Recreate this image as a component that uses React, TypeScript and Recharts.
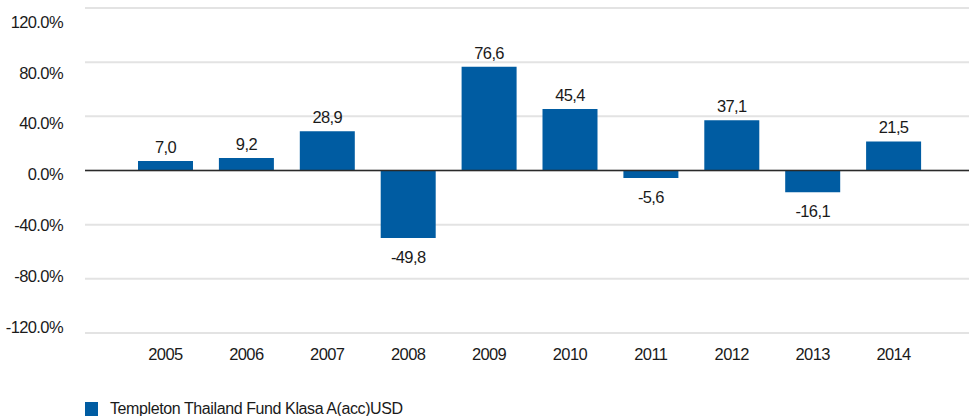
import React from "react";
import {
  BarChart,
  Bar,
  CartesianGrid,
  LabelList,
  Legend,
  ReferenceLine,
  XAxis,
  YAxis,
} from "recharts";

const YEARS = ["2005", "2006", "2007", "2008", "2009", "2010", "2011", "2012", "2013", "2014"];
const RETURNS = [7.0, 9.2, 28.9, -49.8, 76.6, 45.4, -5.6, 37.1, -16.1, 21.5];
const Y_TICKS = [-120, -80, -40, 0, 40, 80, 120];
const SERIES_NAME = "Templeton Thailand Fund Klasa A(acc)USD";

const BLUE = "#005ca2";
const FONT = "'Liberation Sans', Arial, sans-serif";

const data = YEARS.map((year, i) => ({ year, value: RETURNS[i] }));

const fmtValue = (v: number) => v.toFixed(1).replace(".", ",");

// label above positive bars, below negative ones
function ValueLabel(props: any) {
  const { x, y, width, height, value } = props;
  const top = Math.min(y, y + height);
  const bottom = Math.max(y, y + height);
  const ty = value >= 0 ? top - 8 : bottom + 25;
  return (
    <text
      x={x + width / 2}
      y={ty}
      textAnchor="middle"
      fill="#1a1a1a"
      fontSize={16.5}
      letterSpacing={-0.6}
      fontFamily={FONT}
    >
      {fmtValue(value)}
    </text>
  );
}

function LegendContent() {
  return (
    <div
      style={{
        display: "flex",
        alignItems: "flex-start",
        fontFamily: FONT,
        fontSize: 16,
        letterSpacing: -0.4,
        color: "#1a1a1a",
        lineHeight: "18px",
        height: 18,
        overflow: "hidden",
      }}
    >
      <span
        style={{
          display: "inline-block",
          width: 13,
          height: 14,
          marginTop: 4,
          background: BLUE,
          marginRight: 12,
        }}
      />
      <span style={{ marginTop: 2 }}>{SERIES_NAME}</span>
    </div>
  );
}

const tickStyle = { fill: "#1a1a1a", fontSize: 16.5, fontFamily: FONT, letterSpacing: -0.6 };

export default function App() {
  return (
    <div style={{ position: "absolute", left: 0, top: 0, width: 969, height: 416 }}>
      <BarChart
        width={969}
        height={416}
        data={data}
        margin={{ top: 8, right: 0, left: 0, bottom: 0 }}
      >
        <CartesianGrid
          vertical={false}
          horizontalValues={Y_TICKS}
          stroke="#e3e3e3"
          strokeWidth={2}
        />
        <XAxis
          dataKey="year"
          axisLine={false}
          tickLine={false}
          tickSize={0}
          tickMargin={15}
          height={65}
          padding={{ left: 40, right: 35 }}
          tick={tickStyle}
          interval={0}
        />
        <YAxis hide width={0} domain={[-120, 120]} ticks={Y_TICKS} allowDataOverflow />
        {/* tick labels sit on their own slightly tighter scale, as in the source */}
        <YAxis
          yAxisId="labels"
          domain={[-125, 131]}
          ticks={Y_TICKS}
          allowDataOverflow
          width={85}
          axisLine={false}
          tickLine={false}
          tickSize={0}
          tickMargin={22}
          tickFormatter={(v: number) => `${v.toFixed(1)}%`}
          tick={tickStyle}
        />
        <ReferenceLine y={0} stroke="#2a2a2a" strokeWidth={1.5} />
        <Bar dataKey="value" name={SERIES_NAME} fill={BLUE} barSize={55} isAnimationActive={false}>
          <LabelList dataKey="value" content={<ValueLabel />} />
        </Bar>
        <Legend
          verticalAlign="bottom"
          content={<LegendContent />}
          wrapperStyle={{ left: 85, width: 600, height: 18 }}
        />
      </BarChart>
    </div>
  );
}
